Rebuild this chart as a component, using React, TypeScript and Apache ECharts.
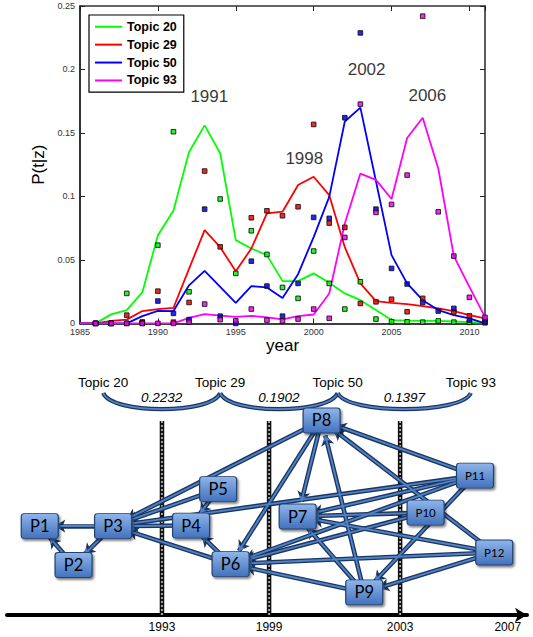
import React, { useEffect, useRef } from 'react';
import * as echarts from 'echarts';

// ---------- top panel data ----------
const years = [1985, 1986, 1987, 1988, 1989, 1990, 1991, 1992, 1993, 1994, 1995, 1996, 1997, 1998, 1999, 2000, 2001, 2002, 2003, 2004, 2005, 2006, 2007, 2008, 2009, 2010, 2011];
const rawYears = [1986, 1987, 1988, 1989, 1990, 1991, 1992, 1993, 1994, 1995, 1996, 1997, 1998, 1999, 2000, 2001, 2002, 2003, 2004, 2005, 2006, 2007, 2008, 2009, 2010, 2011];

const topicNames = ['Topic 20', 'Topic 29', 'Topic 50', 'Topic 93'];
const topicColors = ['#00ff00', '#ff0000', '#0000ff', '#ff00ff'];

const trendTopic20 = [0, 0, 0.0071, 0.0105, 0.0244, 0.0695, 0.089, 0.135, 0.156, 0.134, 0.0656, 0.059, 0.0538, 0.0333, 0.0333, 0.0394, 0.032, 0.0236, 0.0183, 0.0105, 0.0026, 0.0022, 0.002, 0.002, 0.0015, 0.001, 0.0005];
const trendTopic29 = [0, 0, 0.002, 0.003, 0.0097, 0.0113, 0.0123, 0.043, 0.0735, 0.06, 0.041, 0.059, 0.0866, 0.088, 0.109, 0.1155, 0.101, 0.06, 0.0315, 0.0176, 0.0162, 0.0152, 0.0136, 0.0118, 0.0097, 0.0065, 0.004];
const trendTopic50 = [0, 0, 0, 0, 0.0057, 0.0099, 0.0097, 0.03, 0.0414, 0.0288, 0.0162, 0.0294, 0.0283, 0.02, 0.0388, 0.068, 0.0997, 0.159, 0.17, 0.112, 0.0538, 0.0315, 0.0183, 0.0105, 0.0065, 0.004, 0];
const trendTopic93 = [0, 0, 0, 0, 0, 0, 0, 0.0044, 0.0073, 0.0062, 0.0052, 0.006, 0.0047, 0.0031, 0.0057, 0.007, 0.0235, 0.0787, 0.118, 0.113, 0.098, 0.146, 0.162, 0.122, 0.053, 0.0288, 0.005];

const rawTopic20 = [0, 0, 0.0236, 0.001, 0.0616, 0.151, 0.0249, null, 0.098, 0.0394, 0.073, 0.0543, 0.0283, 0.0197, 0.057, 0.0315, 0.0113, 0.0328, 0.0034, 0.0013, 0.0013, 0.001, 0.002, 0.001, 0.0008, 0.0005];
const rawTopic29 = [0, 0, 0.0065, 0.001, 0.0254, 0.001, 0.0165, 0.12, 0.0603, null, 0.0832, 0.0887, 0.0848, 0.0919, 0.1567, 0.079, 0.0756, 0.0157, 0.017, 0.019, 0.0092, 0.0197, null, 0.009, 0.006, 0.002];
const rawTopic50 = [0, 0, 0, 0, 0.0176, 0.0079, 0.003, 0.09, 0.0057, 0, 0.049, 0.0294, 0.0057, 0.0315, 0.0835, 0.0827, 0.162, 0.2288, 0.09, 0.0433, 0.031, 0.0165, 0.0097, 0.0118, 0.0026, 0.0008];
const rawTopic93 = [0, 0, 0, 0, 0, 0, 0.001, 0.0152, 0.003, 0.002, 0.0113, 0.0026, 0.002, 0.0034, 0.0113, 0.004, 0.0677, 0.1727, 0.0874, 0.0937, 0.1168, 0.242, 0.0879, 0.053, 0.0205, 0.0047];

const peakLabels = ['1991', '1998', '2002', '2006'];
const peakLabelYear = [1993.3, 1999.4, 2003.4, 2007.3];
const peakLabelValue = [0.1785, 0.13, 0.2003, 0.1793];

// ---------- bottom panel data (diagram units: x 0-100 along timeline, y 0-100 top to bottom) ----------
const paperNames = ['P1', 'P2', 'P3', 'P4', 'P5', 'P6', 'P7', 'P8', 'P9', 'P10', 'P11', 'P12'];
const paperX = [6.3, 12.8, 20.4, 35.4, 40.6, 43.0, 55.9, 60.5, 68.7, 80.5, 90.0, 93.7];
const paperY = [63.7, 79.6, 63.7, 63.5, 48.6, 79.2, 59.8, 20.6, 90.8, 58.2, 43.1, 74.5];
const citeFrom = ['P3', 'P2', 'P3', 'P4', 'P5', 'P6', 'P8', 'P11', 'P5', 'P6', 'P8', 'P9', 'P10', 'P11', 'P12', 'P8', 'P9', 'P10', 'P11', 'P12', 'P9', 'P11', 'P12', 'P11', 'P12'];
const citeTo = ['P1', 'P1', 'P2', 'P3', 'P3', 'P3', 'P3', 'P3', 'P4', 'P4', 'P6', 'P6', 'P6', 'P6', 'P6', 'P7', 'P7', 'P7', 'P7', 'P7', 'P8', 'P8', 'P8', 'P9', 'P9'];

const timelineYears = ['1993', '1999', '2003', '2007'];
const timelinePos = [29.8, 50.4, 75.6, 96.3];
const dividerPos = [29.8, 50.4, 75.6];
const chainTopics = ['Topic 20', 'Topic 29', 'Topic 50', 'Topic 93'];
const chainTopicPos = [18.5, 41.0, 63.6, 89.2];
const chainSimilarity = ['0.2232', '0.1902', '0.1397'];

const FONT = "'Liberation Sans', Arial, sans-serif";
const NODE_PATH = 'path://M3,0L34,0Q37,0 37,3L37,22Q37,25 34,25L3,25Q0,25 0,22L0,3Q0,0 3,0Z';

export default function App() {
  const ref = useRef<HTMLDivElement>(null);

  useEffect(() => {
    if (!ref.current) return;
    const chart = echarts.init(ref.current, undefined, { renderer: 'svg' });

    const trends = [trendTopic20, trendTopic29, trendTopic50, trendTopic93];
    const raws = [rawTopic20, rawTopic29, rawTopic50, rawTopic93];

    const lineSeries = trends.map((t, i) => ({
      name: topicNames[i],
      type: 'line',
      xAxisIndex: 0,
      yAxisIndex: 0,
      data: years.map((y, k) => [y, t[k]]),
      symbol: 'none',
      lineStyle: { color: topicColors[i], width: 1.8 },
      itemStyle: { color: topicColors[i] },
      z: 2,
      silent: true,
    }));

    const scatterSeries = raws.map((r, i) => ({
      name: topicNames[i] + ' (raw)',
      type: 'scatter',
      xAxisIndex: 0,
      yAxisIndex: 0,
      data: rawYears.map((y, k) => (r[k] === null ? null : [y, r[k]])).filter((d) => d !== null),
      symbol: 'rect',
      symbolSize: 4.5,
      itemStyle: { color: topicColors[i], borderColor: '#111', borderWidth: 1, shadowBlur: 1.5, shadowColor: 'rgba(0,0,0,0.35)' },
      z: 3,
      silent: true,
    }));

    const annotationSeries = {
      type: 'scatter',
      xAxisIndex: 0,
      yAxisIndex: 0,
      symbolSize: 1,
      itemStyle: { color: 'rgba(0,0,0,0)' },
      data: peakLabels.map((t, i) => ({ name: t, value: [peakLabelYear[i], peakLabelValue[i]] })),
      label: { show: true, position: 'inside', formatter: '{b}', fontSize: 17, color: '#000', fontFamily: FONT },
      z: 4,
      silent: true,
    };

    const nodeData = paperNames.map((n, i) => ({
      name: n,
      value: [paperX[i], paperY[i]],
      label: { fontSize: n.length > 2 ? 11.5 : 16.5 },
    }));
    const links = citeFrom.map((s, i) => ({ source: s, target: citeTo[i] }));

    const graphBase = {
      type: 'graph',
      coordinateSystem: 'cartesian2d',
      xAxisIndex: 2,
      yAxisIndex: 2,
      layout: 'none',
      symbol: NODE_PATH,
      symbolSize: [37, 25],
      edgeSymbol: ['none', 'arrow'],
      links,
      silent: true,
      emphasis: { disabled: true },
    };

    const darkEdges = {
      ...graphBase,
      data: nodeData.map((d) => ({ ...d, label: { show: false } })),
      itemStyle: { opacity: 0 },
      label: { show: false },
      edgeSymbolSize: 10,
      lineStyle: { color: '#1c355e', width: 4.6, opacity: 1, curveness: 0 },
      z: 3,
    };

    const nodesAndEdges = {
      ...graphBase,
      data: nodeData,
      edgeSymbolSize: 6,
      lineStyle: { color: '#4f82c6', width: 1.9, opacity: 1, curveness: 0 },
      itemStyle: {
        color: new echarts.graphic.LinearGradient(0, 0, 0, 1, [
          { offset: 0, color: '#8fb5ea' },
          { offset: 1, color: '#4272bd' },
        ]),
        borderColor: '#24426f',
        borderWidth: 1,
        shadowColor: 'rgba(0,0,0,0.5)',
        shadowBlur: 2,
        shadowOffsetX: 1.5,
        shadowOffsetY: 2,
      },
      label: { show: true, position: 'inside', color: '#000', fontFamily: 'Lato, sans-serif', fontSize: 16.5 },
      z: 4,
    };

    const dividerSeries = {
      type: 'custom',
      coordinateSystem: 'cartesian2d',
      xAxisIndex: 2,
      yAxisIndex: 2,
      silent: true,
      data: dividerPos.map((u) => [u]),
      renderItem: (params: any, api: any) => {
        const u = api.value(0);
        const a = api.coord([u, 20.8]);
        const b = api.coord([u, 100]);
        const shape = { x1: a[0], y1: a[1], x2: b[0], y2: b[1] };
        return {
          type: 'group',
          children: [
            { type: 'line', shape, style: { stroke: '#111', lineWidth: 4.5 } },
            { type: 'line', shape, style: { stroke: '#e8e8e8', lineWidth: 1.3, lineDash: [2, 2] } },
          ],
        };
      },
      z: 1,
    };

    const braceSeries = {
      type: 'custom',
      coordinateSystem: 'cartesian2d',
      xAxisIndex: 2,
      yAxisIndex: 2,
      silent: true,
      data: chainSimilarity.map((s, i) => [chainTopicPos[i], chainTopicPos[i + 1]]),
      renderItem: (params: any, api: any) => {
        const i = params.dataIndex;
        const u1 = api.value(0);
        const u2 = api.value(1);
        const a = api.coord([u1, 9.4]);
        const b = api.coord([u2, 9.4]);
        const cy = api.coord([u1, 18.2])[1];
        const w = b[0] - a[0];
        const shape = { x1: a[0], y1: a[1], x2: b[0], y2: b[1], cpx1: a[0] + w * 0.07, cpy1: cy, cpx2: b[0] - w * 0.07, cpy2: cy };
        const mid = api.coord([(u1 + u2) / 2, 11.4]);
        return {
          type: 'group',
          children: [
            { type: 'bezierCurve', shape, style: { stroke: '#1c355e', lineWidth: 4.2, fill: 'none' } },
            { type: 'bezierCurve', shape, style: { stroke: '#5585c8', lineWidth: 1.7, fill: 'none' } },
            {
              type: 'text',
              style: { text: chainSimilarity[i], x: mid[0], y: mid[1], align: 'center', verticalAlign: 'middle', fontSize: 13.5, fontStyle: 'italic', fontFamily: FONT, fill: '#000' },
            },
          ],
        };
      },
      z: 2,
    };

    const topicLabelSeries = {
      type: 'custom',
      coordinateSystem: 'cartesian2d',
      xAxisIndex: 2,
      yAxisIndex: 2,
      silent: true,
      data: chainTopicPos.map((u) => [u, 4.9]),
      renderItem: (params: any, api: any) => {
        const p = api.coord([api.value(0), api.value(1)]);
        return {
          type: 'text',
          style: { text: chainTopics[params.dataIndex], x: p[0], y: p[1], align: 'center', verticalAlign: 'middle', fontSize: 13.5, fontFamily: FONT, fill: '#000' },
        };
      },
      z: 2,
    };

    const frameTick = { show: true, inside: true, length: 5, lineStyle: { color: '#222', width: 1 } };

    chart.setOption({
      animation: false,
      textStyle: { fontFamily: FONT },
      grid: [
        { left: 80, top: 6, width: 405, height: 317.4 },
        { left: 7, top: 370, width: 520, height: 245 },
      ],
      legend: {
        data: topicNames,
        orient: 'vertical',
        left: 89,
        top: 15,
        backgroundColor: '#fff',
        borderColor: '#000',
        borderWidth: 1.2,
        borderRadius: 0,
        padding: [5, 7, 5, 6],
        itemGap: 4.4,
        itemWidth: 27,
        itemHeight: 2,
        icon: 'rect',
        selectedMode: false,
        textStyle: { fontSize: 12.5, fontWeight: 'bold', color: '#000', fontFamily: FONT, lineHeight: 13.5 },
      },
      xAxis: [
        {
          gridIndex: 0,
          type: 'value',
          min: 1985,
          max: 2011,
          interval: 5,
          position: 'bottom',
          name: 'year',
          nameLocation: 'middle',
          nameGap: 13,
          nameTextStyle: { fontSize: 17, color: '#000', fontFamily: FONT },
          axisLine: { show: true, onZero: false, lineStyle: { color: '#000', width: 1.6 } },
          axisTick: frameTick,
          axisLabel: { fontSize: 9, color: '#333', margin: 4, showMaxLabel: false, fontFamily: FONT, formatter: (v: number) => String(v) },
          splitLine: { show: false },
        },
        {
          gridIndex: 0,
          type: 'value',
          min: 1985,
          max: 2011,
          interval: 5,
          position: 'top',
          axisLine: { show: true, onZero: false, lineStyle: { color: '#333', width: 1.6 } },
          axisTick: frameTick,
          axisLabel: { show: false },
          splitLine: { show: false },
        },
        {
          gridIndex: 1,
          type: 'value',
          min: 0,
          max: 100,
          position: 'bottom',
          axisLine: { show: true, onZero: false, symbol: ['none', 'arrow'], symbolSize: [11, 12], lineStyle: { color: '#000', width: 4, cap: 'round' } },
          axisTick: { show: false },
          axisLabel: {
            show: true,
            customValues: timelinePos,
            formatter: (v: number) => {
              const k = timelinePos.findIndex((p) => Math.abs(p - v) < 1e-6);
              return k >= 0 ? timelineYears[k] : '';
            },
            fontSize: 12,
            color: '#000',
            margin: 6,
            fontFamily: FONT,
            showMinLabel: true,
            showMaxLabel: true,
          },
          splitLine: { show: false },
        },
      ],
      yAxis: [
        {
          gridIndex: 0,
          type: 'value',
          min: 0,
          max: 0.25,
          interval: 0.05,
          position: 'left',
          name: 'P(t|z)',
          nameLocation: 'middle',
          nameGap: 20,
          nameTextStyle: { fontSize: 17, color: '#000', fontFamily: FONT },
          axisLine: { show: true, onZero: false, lineStyle: { color: '#000', width: 1.6 } },
          axisTick: frameTick,
          axisLabel: { fontSize: 9, color: '#333', margin: 5, fontFamily: FONT },
          splitLine: { show: false },
        },
        {
          gridIndex: 0,
          type: 'value',
          min: 0,
          max: 0.25,
          interval: 0.05,
          position: 'right',
          axisLine: { show: true, onZero: false, lineStyle: { color: '#333', width: 1.6 } },
          axisTick: frameTick,
          axisLabel: { show: false },
          splitLine: { show: false },
        },
        {
          gridIndex: 1,
          type: 'value',
          min: 0,
          max: 100,
          inverse: true,
          show: false,
        },
      ],
      series: [
        ...lineSeries,
        ...scatterSeries,
        annotationSeries,
        dividerSeries,
        braceSeries,
        topicLabelSeries,
        darkEdges,
        nodesAndEdges,
      ],
    });

    return () => chart.dispose();
  }, []);

  return <div ref={ref} style={{ position: 'absolute', left: 0, top: 0, width: 533, height: 637, background: '#fff' }} />;
}
